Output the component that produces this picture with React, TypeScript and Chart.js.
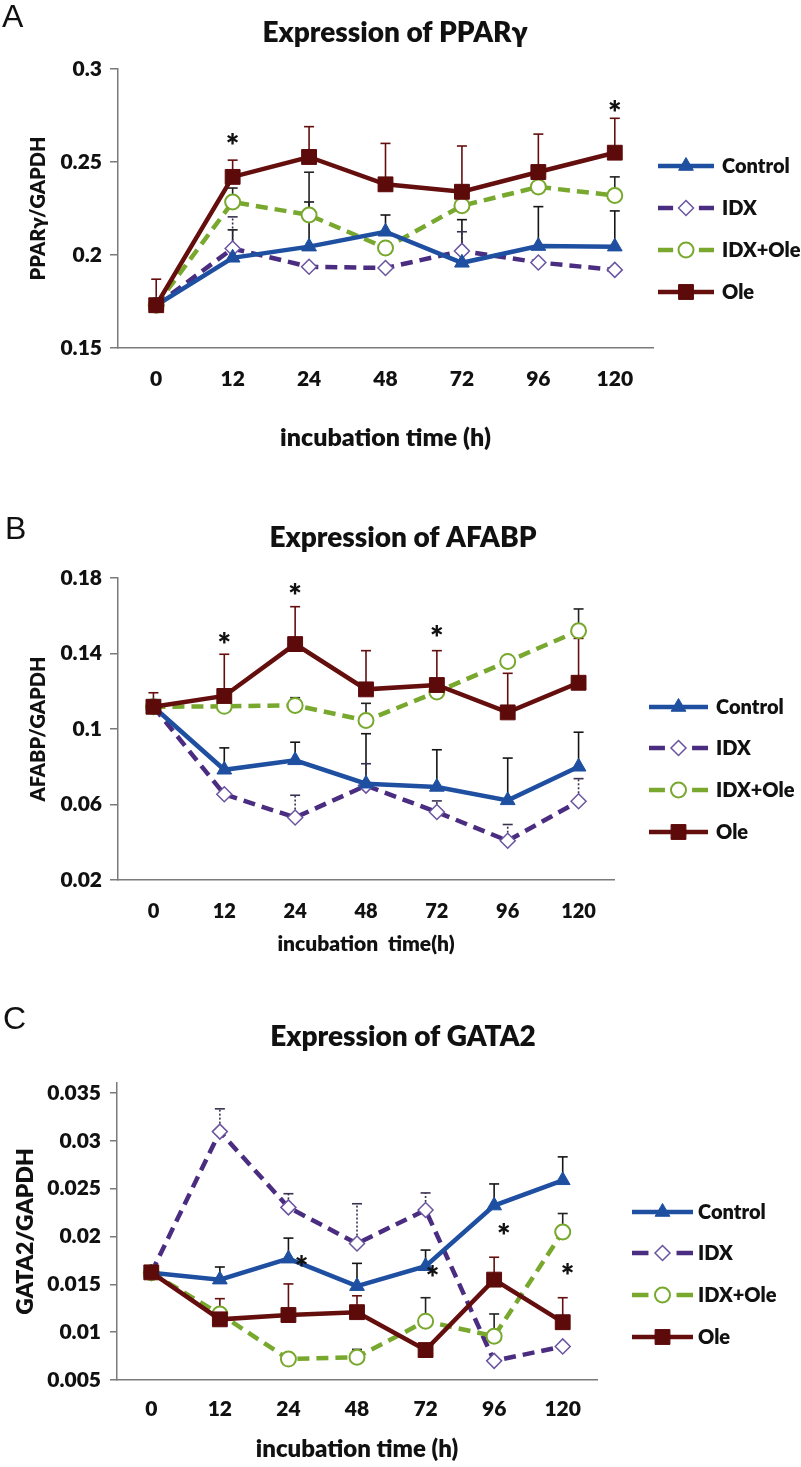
import React, { useEffect, useRef } from 'react';
import { Chart, registerables } from 'chart.js';

Chart.register(...registerables);

// ---------------- data ----------------
const categories = ['0', '12', '24', '48', '72', '96', '120'];
const seriesNames = ['Control', 'IDX', 'IDX+Ole', 'Ole'];

// Panel A : PPARγ
const pparControl = [0.173, 0.1985, 0.2045, 0.2125, 0.1958, 0.2048, 0.2045];
const pparControlErr = [null, 0.2135, 0.2285, 0.2215, 0.219, 0.226, 0.2237];
const pparIdx = [0.173, 0.2035, 0.1937, 0.193, 0.2022, 0.196, 0.192];
const pparIdxErr = [null, 0.2205, null, null, 0.2125, null, null];
const pparIdxOle = [0.173, 0.2285, 0.2215, 0.2038, 0.2265, 0.2366, 0.232];
const pparIdxOleErr = [null, 0.236, 0.2445, null, null, null, 0.242];
const pparOle = [0.173, 0.242, 0.2527, 0.238, 0.234, 0.2446, 0.255];
const pparOleErr = [0.187, 0.251, 0.269, 0.26, 0.2586, 0.265, 0.2735];
const pparStarCats = [1, 6];
const pparStarVals = [0.262, 0.28];

// Panel B : AFABP
const afabpControl = [0.1118, 0.0784, 0.0834, 0.071, 0.0693, 0.0622, 0.08];
const afabpControlErr = [null, 0.09, 0.093, 0.0975, 0.089, 0.0846, 0.0983];
const afabpIdx = [0.1118, 0.0654, 0.0531, 0.07, 0.056, 0.0408, 0.0617];
const afabpIdxErr = [null, null, 0.0649, 0.0816, 0.0619, 0.0494, 0.0737];
const afabpIdxOle = [0.1118, 0.112, 0.1125, 0.1045, 0.1196, 0.1358, 0.152];
const afabpIdxOleErr = [null, null, 0.1166, 0.1136, null, 0.1385, 0.1636];
const afabpOle = [0.1118, 0.1175, 0.145, 0.121, 0.1233, 0.1088, 0.1245];
const afabpOleErr = [0.1192, 0.1396, 0.1648, 0.1415, 0.1415, 0.1295, 0.148];
const afabpStarCats = [1, 2, 4];
const afabpStarVals = [0.148, 0.1736, 0.1515];

// Panel C : GATA2
const gataControl = [0.0162, 0.01549, 0.01768, 0.01481, 0.01689, 0.02323, 0.02587];
const gataControlErr = [null, 0.01681, 0.01983, 0.01719, 0.01858, 0.02549, 0.02832];
const gataIdx = [0.0162, 0.03096, 0.02304, 0.01926, 0.02277, 0.007, 0.00851];
const gataIdxErr = [null, 0.03334, 0.02447, 0.02342, 0.02455, null, null];
const gataIdxOle = [0.0162, 0.0119, 0.00719, 0.00738, 0.01115, 0.00957, 0.02047];
const gataIdxOleErr = [null, null, null, 0.0082, 0.0136, 0.0119, 0.0224];
const gataOle = [0.01625, 0.01134, 0.01179, 0.01209, 0.00813, 0.01549, 0.01104];
const gataOleErr = [null, 0.0135, 0.01504, 0.0138, null, 0.01783, 0.0136];
const gataStarCats = [2.19, 4.1, 5.14, 6.07];
const gataStarVals = [0.01738, 0.0163, 0.0207, 0.0165];

// ---------------- styles ----------------
const FONT = "Lato, 'Open Sans', 'DejaVu Sans', sans-serif";
const WEIGHT = '800';
const AXIS = '#7a7a7a';
const TEXT = '#111111';

const seriesStyles = [
  { color: '#1f4fa0', dash: [] as number[], point: 'triangle', radius: 8.5, fill: '#1f4fa0', pborder: '#1f4fa0', pbw: 1, err: '#151515', errDash: [] as number[], order: 1 },
  { color: '#4a2d80', dash: [12, 7], point: 'rectRot', radius: 7.5, fill: '#ffffff', pborder: '#6a54a0', pbw: 1.5, err: '#3a3050', errDash: [2, 2], order: 3 },
  { color: '#78a82e', dash: [12, 7], point: 'circle', radius: 7.5, fill: '#ffffff', pborder: '#78a82e', pbw: 2, err: '#222222', errDash: [] as number[], order: 2 },
  { color: '#640e0e', dash: [] as number[], point: 'rect', radius: 10.5, fill: '#5c0a0a', pborder: '#5c0a0a', pbw: 1, err: '#640e0e', errDash: [] as number[], order: 0 },
];

const fmt = (v: number) => String(Number(v.toFixed(4)));

// ---------------- plugins ----------------
function drawMarker(ctx: CanvasRenderingContext2D, style: any, x: number, y: number) {
  const r = style.radius;
  ctx.save();
  ctx.setLineDash([]);
  ctx.fillStyle = style.fill;
  ctx.strokeStyle = style.pborder;
  ctx.lineWidth = style.pbw;
  ctx.beginPath();
  if (style.point === 'triangle') {
    ctx.moveTo(x, y - r);
    ctx.lineTo(x - r * 0.866, y + r / 2);
    ctx.lineTo(x + r * 0.866, y + r / 2);
    ctx.closePath();
  } else if (style.point === 'rectRot') {
    ctx.moveTo(x, y - r);
    ctx.lineTo(x + r, y);
    ctx.lineTo(x, y + r);
    ctx.lineTo(x - r, y);
    ctx.closePath();
  } else if (style.point === 'circle') {
    ctx.arc(x, y, r, 0, Math.PI * 2);
  } else {
    const s = r * Math.SQRT1_2;
    ctx.rect(x - s, y - s, 2 * s, 2 * s);
  }
  ctx.fill();
  ctx.stroke();
  ctx.restore();
}

const errorBarPlugin = {
  id: 'errorBars',
  beforeDatasetsDraw(chart: any) {
    const { ctx } = chart;
    const yScale = chart.scales.y;
    chart.data.datasets.forEach((ds: any, di: number) => {
      const meta = chart.getDatasetMeta(di);
      const st = seriesStyles[di];
      (ds.errTop || []).forEach((top: number | null, i: number) => {
        if (top == null) return;
        const pt = meta.data[i];
        if (!pt) return;
        const yTop = yScale.getPixelForValue(top);
        ctx.save();
        ctx.strokeStyle = st.err;
        ctx.lineWidth = 1.6;
        ctx.setLineDash(st.errDash);
        ctx.beginPath();
        ctx.moveTo(pt.x, pt.y);
        ctx.lineTo(pt.x, yTop);
        ctx.stroke();
        ctx.setLineDash([]);
        ctx.beginPath();
        ctx.moveTo(pt.x - 5, yTop);
        ctx.lineTo(pt.x + 5, yTop);
        ctx.stroke();
        ctx.restore();
      });
    });
  },
};

const starsPlugin = {
  id: 'stars',
  afterDatasetsDraw(chart: any, _args: any, opts: any) {
    const { ctx } = chart;
    const x = chart.scales.x;
    const y = chart.scales.y;
    const p0 = x.getPixelForValue(0);
    const step = x.getPixelForValue(1) - p0;
    ctx.save();
    ctx.fillStyle = TEXT;
    ctx.font = `${WEIGHT} ${opts.size}px ${FONT}`;
    ctx.textAlign = 'center';
    ctx.textBaseline = 'middle';
    (opts.cats || []).forEach((c: number, i: number) => {
      ctx.fillText('*', p0 + c * step, y.getPixelForValue(opts.vals[i]) + opts.size * 0.22);
    });
    ctx.restore();
  },
};

const sideLegendPlugin = {
  id: 'sideLegend',
  afterDraw(chart: any, _args: any, opts: any) {
    const { ctx } = chart;
    chart.data.datasets.forEach((ds: any, i: number) => {
      const st = seriesStyles[i];
      const y = opts.rows[i];
      const x0 = opts.x;
      const x1 = opts.x + opts.len;
      const xc = (x0 + x1) / 2;
      ctx.save();
      ctx.strokeStyle = st.color;
      ctx.lineWidth = 4.5;
      ctx.beginPath();
      if (st.dash.length) {
        const d = opts.len * 0.27;
        ctx.moveTo(x0, y);
        ctx.lineTo(x0 + d, y);
        ctx.moveTo(x1 - d, y);
        ctx.lineTo(x1, y);
      } else {
        ctx.moveTo(x0, y);
        ctx.lineTo(x1, y);
      }
      ctx.stroke();
      ctx.restore();
      drawMarker(ctx, st, xc, y);
      ctx.save();
      ctx.fillStyle = TEXT;
      ctx.font = `${WEIGHT} ${opts.size}px ${FONT}`;
      ctx.textAlign = 'left';
      ctx.textBaseline = 'middle';
      ctx.fillText(ds.label, opts.textX, y + 1);
      ctx.restore();
    });
  },
};

const panelTextPlugin = {
  id: 'panelText',
  afterDraw(chart: any, _args: any, opts: any) {
    const { ctx } = chart;
    ctx.save();
    ctx.fillStyle = TEXT;
    ctx.textBaseline = 'middle';
    ctx.textAlign = 'left';
    ctx.font = `${opts.letterSize}px 'Liberation Sans', Arial, sans-serif`;
    ctx.fillText(opts.letter, opts.letterX, opts.letterY);
    ctx.textAlign = 'center';
    ctx.font = `${WEIGHT} ${opts.titleSize}px ${FONT}`;
    ctx.fillText(opts.title, opts.titleX, opts.titleY);
    ctx.restore();
  },
};

// ---------------- panels ----------------
type Panel = {
  top: number; height: number; padTop: number; padRight: number; yWidth: number; xHeight: number;
  letter: string; letterX: number; letterY: number; letterSize: number;
  title: string; titleX: number; titleY: number; titleSize: number;
  yTitle: string; yTitleSize: number; yTitlePad: number;
  xTitle: string; xTitleSize: number; xTitlePad: number;
  yMin: number; yMax: number; yStep: number; yTickSize: number; yTickPad: number; tickLen: number;
  xTickSize: number; xTickPad: number;
  series: number[][]; errs: (number | null)[][];
  starCats: number[]; starVals: number[]; starSize: number;
  legendX: number; legendLen: number; legendTextX: number; legendRows: number[]; legendSize: number;
};

const panels: Panel[] = [
  {
    top: 0, height: 458, padTop: 69, padRight: 148, yWidth: 118, xHeight: 110,
    letter: 'A', letterX: 2, letterY: 18, letterSize: 32,
    title: 'Expression of PPARγ', titleX: 395, titleY: 33, titleSize: 28,
    yTitle: 'PPARγ/GAPDH', yTitleSize: 20, yTitlePad: 27,
    xTitle: 'incubation time (h)', xTitleSize: 25, xTitlePad: 5,
    yMin: 0.15, yMax: 0.3, yStep: 0.05, yTickSize: 21, yTickPad: 8, tickLen: 8,
    xTickSize: 21, xTickPad: 19,
    series: [pparControl, pparIdx, pparIdxOle, pparOle],
    errs: [pparControlErr, pparIdxErr, pparIdxOleErr, pparOleErr],
    starCats: pparStarCats, starVals: pparStarVals, starSize: 32,
    legendX: 658, legendLen: 56, legendTextX: 722, legendRows: [166, 208, 250, 292], legendSize: 20,
  },
  {
    top: 458, height: 504, padTop: 120, padRight: 187, yWidth: 118, xHeight: 82,
    letter: 'B', letterX: 5, letterY: 72, letterSize: 32,
    title: 'Expression of AFABP', titleX: 403, titleY: 80, titleSize: 28,
    yTitle: 'AFABP/GAPDH', yTitleSize: 20, yTitlePad: 27,
    xTitle: 'incubation  time(h)', xTitleSize: 21, xTitlePad: 5,
    yMin: 0.02, yMax: 0.18, yStep: 0.04, yTickSize: 21, yTickPad: 8, tickLen: 8,
    xTickSize: 20, xTickPad: 20,
    series: [afabpControl, afabpIdx, afabpIdxOle, afabpOle],
    errs: [afabpControlErr, afabpIdxErr, afabpIdxOleErr, afabpOleErr],
    starCats: afabpStarCats, starVals: afabpStarVals, starSize: 32,
    legendX: 649, legendLen: 59, legendTextX: 716, legendRows: [249, 290, 332, 374], legendSize: 20,
  },
  {
    top: 962, height: 504, padTop: 121, padRight: 204, yWidth: 117, xHeight: 86,
    letter: 'C', letterX: 3, letterY: 58, letterSize: 32,
    title: 'Expression of GATA2', titleX: 403, titleY: 75, titleSize: 28,
    yTitle: 'GATA2/GAPDH', yTitleSize: 23, yTitlePad: 12,
    xTitle: 'incubation time (h)', xTitleSize: 24, xTitlePad: 2,
    yMin: 0.005, yMax: 0.03604, yStep: 0.005, yTickSize: 21, yTickPad: 9, tickLen: 7,
    xTickSize: 21, xTickPad: 17,
    series: [gataControl, gataIdx, gataIdxOle, gataOle],
    errs: [gataControlErr, gataIdxErr, gataIdxOleErr, gataOleErr],
    starCats: gataStarCats, starVals: gataStarVals, starSize: 32,
    legendX: 632, legendLen: 61, legendTextX: 698, legendRows: [250, 291, 333, 375], legendSize: 20,
  },
];

function PanelChart({ p }: { p: Panel }) {
  const ref = useRef<HTMLCanvasElement | null>(null);
  useEffect(() => {
    if (!ref.current) return;
    const datasets = p.series.map((vals, i) => {
      const st = seriesStyles[i];
      return {
        label: seriesNames[i],
        data: vals,
        errTop: p.errs[i],
        borderColor: st.color,
        borderWidth: 4.5,
        borderDash: st.dash,
        pointStyle: st.point,
        pointRadius: st.radius,
        pointBackgroundColor: st.fill,
        pointBorderColor: st.pborder,
        pointBorderWidth: st.pbw,
        tension: 0,
        fill: false,
        order: st.order,
      } as any;
    });
    const chart = new Chart(ref.current, {
      type: 'line',
      data: { labels: categories, datasets },
      plugins: [errorBarPlugin, starsPlugin, sideLegendPlugin, panelTextPlugin],
      options: {
        responsive: false,
        animation: false,
        devicePixelRatio: 1,
        layout: { padding: { top: p.padTop, right: p.padRight, left: 0, bottom: 0 } },
        plugins: {
          legend: { display: false },
          tooltip: { enabled: false },
          title: { display: false },
          stars: { cats: p.starCats, vals: p.starVals, size: p.starSize },
          sideLegend: { x: p.legendX, len: p.legendLen, textX: p.legendTextX, rows: p.legendRows, size: p.legendSize },
          panelText: {
            letter: p.letter, letterX: p.letterX, letterY: p.letterY, letterSize: p.letterSize,
            title: p.title, titleX: p.titleX, titleY: p.titleY, titleSize: p.titleSize,
          },
        } as any,
        scales: {
          x: {
            type: 'category',
            offset: true,
            grid: { display: false, drawTicks: false },
            border: { display: true, color: AXIS, width: 1.5 },
            ticks: { color: TEXT, padding: p.xTickPad, font: { family: FONT, size: p.xTickSize, weight: WEIGHT } },
            title: {
              display: true, text: p.xTitle, color: TEXT,
              font: { family: FONT, size: p.xTitleSize, weight: WEIGHT },
              padding: { top: 0, bottom: p.xTitlePad },
            },
            afterFit: (s: any) => { s.height = p.xHeight; },
          },
          y: {
            type: 'linear',
            min: p.yMin,
            max: p.yMax,
            grid: { display: true, drawOnChartArea: false, drawTicks: true, tickLength: p.tickLen, color: AXIS, lineWidth: 1.5 },
            border: { display: true, color: AXIS, width: 1.5 },
            ticks: {
              stepSize: p.yStep,
              includeBounds: false,
              color: TEXT,
              padding: p.yTickPad,
              font: { family: FONT, size: p.yTickSize, weight: WEIGHT },
              callback: (v: any) => fmt(Number(v)),
            },
            title: {
              display: true, text: p.yTitle, color: TEXT,
              font: { family: FONT, size: p.yTitleSize, weight: WEIGHT },
              padding: { top: p.yTitlePad, bottom: 0 },
            },
            afterFit: (s: any) => { s.width = p.yWidth; },
          },
        },
      } as any,
    });
    return () => chart.destroy();
  }, [p]);
  return (
    <canvas
      ref={ref}
      width={801}
      height={p.height}
      style={{ position: 'absolute', left: 0, top: p.top, width: 801, height: p.height }}
    />
  );
}

export default function App() {
  return (
    <div style={{ position: 'absolute', left: 0, top: 0, width: 801, height: 1467, background: '#ffffff', overflow: 'hidden' }}>
      {panels.map((p) => (
        <PanelChart key={p.letter} p={p} />
      ))}
    </div>
  );
}
